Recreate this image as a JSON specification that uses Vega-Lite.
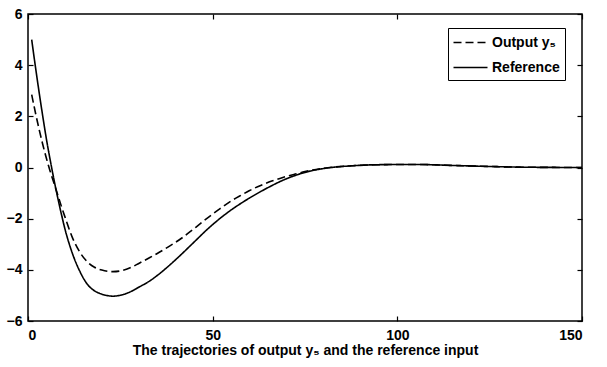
{
  "$schema": "https://vega.github.io/schema/vega-lite/v6.json",
  "width": 554,
  "height": 307,
  "autosize": {"type": "none"},
  "padding": {"left": 28, "top": 14, "right": 25, "bottom": 46},
  "background": "white",
  "config": {
    "font": "Liberation Sans",
    "view": {"stroke": "black", "strokeWidth": 1.5},
    "axis": {"grid": false, "domain": false, "labelFont": "Liberation Sans", "labelFontSize": 14, "labelFontWeight": "bold", "labelColor": "black", "tickColor": "black", "tickWidth": 1.2, "titleColor": "black", "titleFont": "Liberation Sans", "titleFontSize": 14, "titleFontWeight": "bold"}
  },
  "data": {
    "values": [
      {"x": 1, "y": 5.0, "s": "Reference"},
      {"x": 2, "y": 3.95, "s": "Reference"},
      {"x": 3, "y": 2.95, "s": "Reference"},
      {"x": 4, "y": 2.0, "s": "Reference"},
      {"x": 5, "y": 1.1, "s": "Reference"},
      {"x": 6, "y": 0.3, "s": "Reference"},
      {"x": 7, "y": -0.45, "s": "Reference"},
      {"x": 8, "y": -1.15, "s": "Reference"},
      {"x": 9, "y": -1.8, "s": "Reference"},
      {"x": 10, "y": -2.4, "s": "Reference"},
      {"x": 12, "y": -3.35, "s": "Reference"},
      {"x": 14, "y": -4.05, "s": "Reference"},
      {"x": 16, "y": -4.55, "s": "Reference"},
      {"x": 18, "y": -4.82, "s": "Reference"},
      {"x": 20, "y": -4.95, "s": "Reference"},
      {"x": 23, "y": -5.03, "s": "Reference"},
      {"x": 26, "y": -4.955, "s": "Reference"},
      {"x": 28, "y": -4.84, "s": "Reference"},
      {"x": 30, "y": -4.68, "s": "Reference"},
      {"x": 33, "y": -4.43, "s": "Reference"},
      {"x": 35, "y": -4.22, "s": "Reference"},
      {"x": 38, "y": -3.86, "s": "Reference"},
      {"x": 40, "y": -3.6, "s": "Reference"},
      {"x": 42, "y": -3.33, "s": "Reference"},
      {"x": 44, "y": -3.05, "s": "Reference"},
      {"x": 46, "y": -2.77, "s": "Reference"},
      {"x": 48, "y": -2.49, "s": "Reference"},
      {"x": 50, "y": -2.23, "s": "Reference"},
      {"x": 52, "y": -1.99, "s": "Reference"},
      {"x": 55, "y": -1.66, "s": "Reference"},
      {"x": 58, "y": -1.37, "s": "Reference"},
      {"x": 60, "y": -1.19, "s": "Reference"},
      {"x": 63, "y": -0.94, "s": "Reference"},
      {"x": 66, "y": -0.71, "s": "Reference"},
      {"x": 69, "y": -0.5, "s": "Reference"},
      {"x": 72, "y": -0.33, "s": "Reference"},
      {"x": 75, "y": -0.19, "s": "Reference"},
      {"x": 80, "y": -0.04, "s": "Reference"},
      {"x": 87, "y": 0.06, "s": "Reference"},
      {"x": 95, "y": 0.11, "s": "Reference"},
      {"x": 105, "y": 0.12, "s": "Reference"},
      {"x": 115, "y": 0.08, "s": "Reference"},
      {"x": 125, "y": 0.04, "s": "Reference"},
      {"x": 135, "y": 0.01, "s": "Reference"},
      {"x": 150, "y": 0.0, "s": "Reference"},
      {"x": 1, "y": 2.85, "s": "Output y₅"},
      {"x": 2, "y": 2.15, "s": "Output y₅"},
      {"x": 3, "y": 1.5, "s": "Output y₅"},
      {"x": 4, "y": 0.9, "s": "Output y₅"},
      {"x": 5, "y": 0.35, "s": "Output y₅"},
      {"x": 6, "y": -0.15, "s": "Output y₅"},
      {"x": 7, "y": -0.6, "s": "Output y₅"},
      {"x": 8, "y": -1.05, "s": "Output y₅"},
      {"x": 9, "y": -1.5, "s": "Output y₅"},
      {"x": 10, "y": -1.93, "s": "Output y₅"},
      {"x": 12, "y": -2.73, "s": "Output y₅"},
      {"x": 14, "y": -3.3, "s": "Output y₅"},
      {"x": 16, "y": -3.68, "s": "Output y₅"},
      {"x": 18, "y": -3.9, "s": "Output y₅"},
      {"x": 20, "y": -4.01, "s": "Output y₅"},
      {"x": 23, "y": -4.07, "s": "Output y₅"},
      {"x": 26, "y": -4.01, "s": "Output y₅"},
      {"x": 28, "y": -3.9, "s": "Output y₅"},
      {"x": 30, "y": -3.75, "s": "Output y₅"},
      {"x": 33, "y": -3.52, "s": "Output y₅"},
      {"x": 35, "y": -3.36, "s": "Output y₅"},
      {"x": 38, "y": -3.1, "s": "Output y₅"},
      {"x": 40, "y": -2.92, "s": "Output y₅"},
      {"x": 42, "y": -2.72, "s": "Output y₅"},
      {"x": 44, "y": -2.5, "s": "Output y₅"},
      {"x": 46, "y": -2.27, "s": "Output y₅"},
      {"x": 48, "y": -2.04, "s": "Output y₅"},
      {"x": 50, "y": -1.82, "s": "Output y₅"},
      {"x": 52, "y": -1.61, "s": "Output y₅"},
      {"x": 55, "y": -1.31, "s": "Output y₅"},
      {"x": 58, "y": -1.06, "s": "Output y₅"},
      {"x": 60, "y": -0.9, "s": "Output y₅"},
      {"x": 63, "y": -0.7, "s": "Output y₅"},
      {"x": 66, "y": -0.53, "s": "Output y₅"},
      {"x": 69, "y": -0.39, "s": "Output y₅"},
      {"x": 72, "y": -0.27, "s": "Output y₅"},
      {"x": 75, "y": -0.16, "s": "Output y₅"},
      {"x": 80, "y": -0.03, "s": "Output y₅"},
      {"x": 87, "y": 0.06, "s": "Output y₅"},
      {"x": 95, "y": 0.11, "s": "Output y₅"},
      {"x": 105, "y": 0.12, "s": "Output y₅"},
      {"x": 115, "y": 0.08, "s": "Output y₅"},
      {"x": 125, "y": 0.04, "s": "Output y₅"},
      {"x": 135, "y": 0.01, "s": "Output y₅"},
      {"x": 150, "y": 0.0, "s": "Output y₅"}
    ]
  },
  "layer": [
    {
      "mark": {"type": "line", "color": "black", "strokeWidth": 1.6, "interpolate": "monotone"},
      "encoding": {
        "x": {"field": "x", "type": "quantitative", "scale": {"domain": [0, 150], "nice": false, "zero": false},
              "axis": {"values": [0, 50, 100, 150], "tickSize": -5, "labelPadding": 12, "title": "The trajectories of output y₅ and the reference input", "titlePadding": 1}},
        "y": {"field": "y", "type": "quantitative", "scale": {"domain": [-6, 6], "nice": false, "zero": false},
              "axis": {"values": [-6, -4, -2, 0, 2, 4, 6], "tickSize": -5, "labelPadding": 11, "title": null}},
        "strokeDash": {"field": "s", "type": "nominal",
          "scale": {"domain": ["Output y₅", "Reference"], "range": [[8, 4], [1, 0]]},
          "legend": {"title": null, "orient": "none", "legendX": 420, "legendY": 14, "strokeColor": "black", "fillColor": "white", "padding": 5, "symbolType": "M-2,0H2", "symbolSize": 289, "symbolOffset": 8, "symbolStrokeWidth": 1.6, "symbolStrokeColor": "black", "labelOffset": 12, "labelFont": "Liberation Sans", "labelFontSize": 14, "labelFontWeight": "bold", "labelColor": "black", "rowPadding": 8}}
      }
    },
    {
      "mark": {"type": "point", "opacity": 0},
      "encoding": {
        "x": {"field": "x", "type": "quantitative", "scale": {"domain": [0, 150], "nice": false, "zero": false},
              "axis": {"orient": "top", "values": [0, 50, 100, 150], "tickSize": -5, "labels": false, "title": null}},
        "y": {"field": "y", "type": "quantitative", "scale": {"domain": [-6, 6], "nice": false, "zero": false},
              "axis": {"orient": "right", "values": [-6, -4, -2, 0, 2, 4, 6], "tickSize": -5, "labels": false, "title": null}}
      }
    }
  ],
  "resolve": {"axis": {"x": "independent", "y": "independent"}}
}
